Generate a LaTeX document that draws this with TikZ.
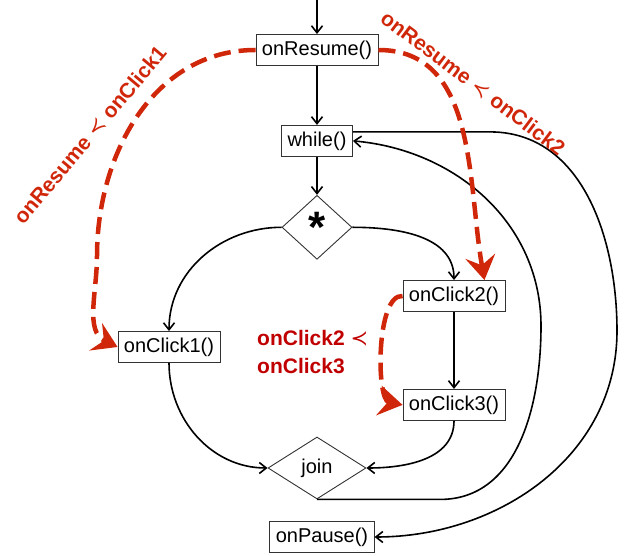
\documentclass[tikz,border=0pt]{standalone}
\usepackage{fontspec}
\setmainfont{Liberation Sans}
\newfontfamily\symfont{DejaVu Sans}
\usetikzlibrary{shapes.geometric, arrows.meta, positioning}
\definecolor{orderred}{RGB}{208,38,10}
\definecolor{textred}{RGB}{192,0,0}
\newcommand{\precedes}{{\symfont\mdseries ≺}}
\tikzstyle{call} = [rectangle, draw = black!80, line width = 0.9pt,
  minimum height = 31pt, inner xsep = 6pt, inner ysep = 0pt,
  font = \fontsize{20}{24}\selectfont]
\tikzstyle{branch} = [
  diamond, draw = black!80, line width = 0.9pt,
  inner sep = 0pt, font = \fontsize{20}{24}\selectfont
]
\tikzstyle{flow} = [line width = 1.6pt,
  -{Straight Barb[length = 7pt, width = 11pt]}]
\tikzstyle{order} = [orderred, line width = 4.5pt,
  dash pattern = on 17pt off 8pt,
  -{Stealth[length = 24pt, width = 30pt, inset = 9pt]}]
\tikzstyle{orderlabel} = [orderred, font = \fontsize{21}{24}\selectfont\bfseries]

\begin{document}
\begin{tikzpicture}[x = 1pt, y = 1pt, node distance = 0]
    \useasboundingbox (0, 0) rectangle (626, 556);
    \coordinate (entry) at (317, 556);
    \node [call] (on-resume) at (317, 506) {onResume()};
    \node [call, below = 59pt of on-resume] (while-loop) {while()};
    \node [branch, minimum width = 70pt, minimum height = 64pt,
      below = 38pt of while-loop] (fork) {};
    \node [font = \fontsize{44}{44}\selectfont\bfseries] (star) at (fork) {*};
    \node [call] (on-click-1) at (169, 209) {onClick1()};
    \node [call] (on-click-2) at (454, 260) {onClick2()};
    \node [call, below = 77pt of on-click-2] (on-click-3) {onClick3()};
    \node [branch, minimum width = 98pt, minimum height = 62pt] (join) at (317, 88) {join};
    \node [call] (on-pause) at (322, 19) {onPause()};
    \coordinate (loop-back) at (541, 230);
    \coordinate (exit-bend) at (617, 225);
    \coordinate (left-bend) at (97, 300);
    \draw [flow] (entry) -- (on-resume);
    \draw [flow] (on-resume) -- (while-loop);
    \draw [flow] (while-loop) -- (fork);
    \draw [flow] (fork.west) to [out = 180, in = 90] (on-click-1.north);
    \draw [flow] (fork.east) to [out = 0, in = 90] (on-click-2.north);
    \draw [flow] (on-click-2) -- (on-click-3);
    \draw [flow] (on-click-1.south) to [out = -90, in = 180] (join.west);
    \draw [flow] (on-click-3.south) to [out = -90, in = 0] (join.east);
    \draw [flow] (join.south) -- ++(123, 0) to [out = 0, in = -90] (loop-back)
      to [out = 90, in = -5] (while-loop.east);
    \draw [flow] ([yshift = 9pt]while-loop.east) -- ++(137, 0)
      to [out = 0, in = 90] (exit-bend) to [out = -90, in = 0] (on-pause.east);
    % ordering edges
    \draw [order] (on-resume.west) to [out = 180, in = 90] (left-bend)
      to [out = -90, in = 155] (on-click-1.west);
    \draw [order] (on-resume.east) to [out = 0, in = 100]
      ([xshift = -21pt]on-click-2.north east);
    \draw [order] (on-click-2.west) .. controls (376, 262) and (376, 156)
      .. (on-click-3.west);
    \node [orderlabel, rotate = 50] (label-click-1) at (90, 421)
      {onResume \precedes{} onClick1};
    \node [orderlabel, rotate = -37] (label-click-2) at (473, 473)
      {onResume \precedes{} onClick2};
    \node [textred, font = \fontsize{21}{28}\selectfont\bfseries, align = left,
      anchor = west, inner sep = 0pt] (label-click-3) at (257, 204)
      {onClick2 \precedes\\onClick3};
  \end{tikzpicture}
\end{document}
